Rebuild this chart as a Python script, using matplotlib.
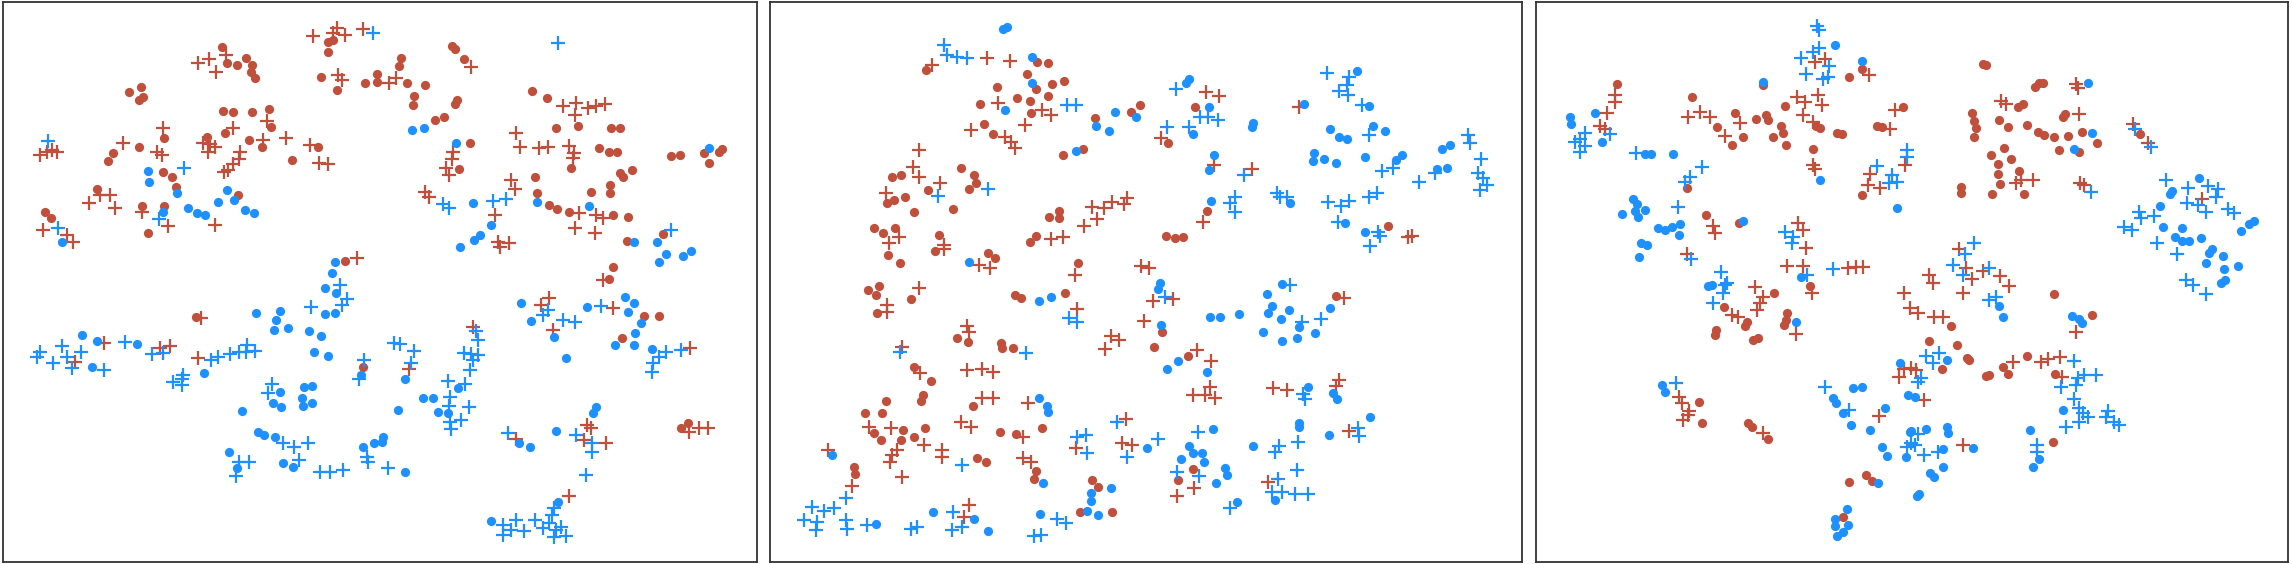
import matplotlib
matplotlib.use("Agg")
import matplotlib.pyplot as plt
import numpy as np

# ---------------- data (embedding coordinates) ----------------
p1_red_dot = [(328,42),(333,40),(328,52),(321,77),(337,90),(365,83),(377,74),(377,82),
(222,47),(227,63),(237,65),(246,58),(252,65),(251,72),(255,78),
(129,92),(141,87),(143,97),(139,100),
(223,111),(233,112),(252,112),(269,109),(271,127),
(164,138),(139,147),(113,153),(108,161),
(207,137),(225,133),(249,140),(262,147),(318,147),(292,160),
(163,172),(172,177),(176,187),(238,195),
(97,189),(142,206),(164,206),(148,233),(45,212),(51,218),
(345,261),
(452,46),(455,49),(464,59),(401,58),(399,66),(407,83),(425,85),
(414,96),(413,105),(457,100),(455,104),(444,117),(435,120),
(470,143),(459,169),
(532,91),(547,98),(556,128),(578,126),(611,128),(620,128),
(571,168),(599,148),(609,152),(617,152),
(671,156),(680,155),(704,153),(719,152),(722,149),(709,163),
(535,177),(537,193),(620,173),(623,177),(632,170),(610,185),(610,193),(591,192),
(549,205),(557,209),(569,212),(613,215),(628,217),(627,241),(663,234),
(613,267),(609,279),(196,317),(363,367),
(644,316),(659,316),(622,338),(681,428),(688,423)]

p1_red_plus = [(313,36),(337,28),(333,33),(345,35),(363,29),(338,75),(342,80),
(198,63),(209,59),(226,55),(216,72),(267,121),(163,128),
(40,155),(47,152),(52,150),(57,152),(123,143),(157,152),(162,155),
(203,143),(210,144),(208,152),(215,147),
(233,128),(263,140),(286,138),(310,145),(319,163),(328,164),
(240,152),(239,159),(233,164),(228,170),(224,172),
(215,225),(100,195),(110,195),(89,203),(115,208),
(142,212),(168,226),(43,230),(67,235),(73,242),(357,258),
(471,67),(396,78),(389,83),(453,152),(452,159),(446,168),(449,175),
(425,192),(429,197),(495,215),(498,242),(500,247),(509,243),
(563,106),(576,103),(575,115),(588,108),(596,106),(605,104),
(516,133),(520,147),(539,148),(548,147),(569,146),(574,153),(573,158),
(511,180),(515,189),(579,213),(596,215),(603,218),(575,228),(595,233),
(603,280),(201,318),(104,343),(75,362),(160,348),(170,346),(198,358),
(541,305),(549,298),(553,330),(613,308),(690,348),
(409,369),(473,327),(516,439),(587,425),(591,428),(584,440),(606,443),
(689,432),(699,428),(708,428),(569,496)]

p1_blue_dot = [(148,171),(149,182),(177,193),(227,190),(218,202),(234,200),(245,210),(254,213),
(188,208),(197,213),(205,215),(163,212),(62,242),
(335,262),(332,273),(325,288),
(412,130),(424,128),(456,143),(473,203),(491,225),(480,235),(474,240),(460,247),
(537,202),(589,206),(634,242),(657,242),(666,254),(659,262),(683,256),(691,251),(709,148),
(336,293),(325,314),(335,313),
(256,313),(280,311),(276,320),(274,330),(288,328),(309,331),(321,336),(314,352),(328,356),
(82,335),(97,341),(137,344),(92,367),(204,373),(361,375),
(280,392),(273,403),(281,407),(304,387),(312,386),(302,398),(303,406),(312,403),
(242,411),(258,432),(264,435),(275,437),(283,463),(293,467),(229,452),(237,468),
(363,447),(374,443),(382,442),(383,437),
(521,303),(531,321),(554,337),(566,358),(587,307),(625,297),(634,303),(628,312),
(641,323),(635,333),(615,345),(634,345),(652,349),
(405,379),(458,388),(438,412),(448,413),(423,398),(433,398),(398,410),(405,472),
(519,443),(530,447),(556,431),(596,407),(593,413),(558,502),(491,521)]

p1_blue_plus = [(373,33),(184,168),(159,219),(58,228),(48,141),(340,285),
(558,43),(443,204),(449,208),(493,201),(506,199),(671,230),
(347,299),(342,305),(311,307),
(125,342),(62,346),(40,352),(37,357),(53,363),(67,357),(72,368),(81,352),(104,370),
(152,354),(163,353),(211,360),(218,357),(230,354),(239,352),(247,345),(255,351),(246,352),
(183,375),(173,382),(182,385),(182,379),
(364,360),(359,379),(272,384),(268,393),
(283,443),(294,447),(308,443),(299,460),(239,462),(249,462),(236,476),
(320,472),(330,472),(343,470),(367,457),(368,462),(388,468),
(548,310),(543,315),(563,320),(575,322),(601,306),
(666,352),(681,350),(659,357),(653,363),(652,372),
(394,343),(400,344),(414,351),(411,363),
(476,331),(478,340),(464,353),(471,354),(478,355),(473,360),(470,370),
(448,381),(465,384),(450,397),(449,406),(469,407),(461,420),(450,422),(451,429),
(508,433),(576,435),(592,443),(592,452),(586,475),(554,508),(552,515),
(503,525),(516,520),(511,530),(524,531),(535,520),(543,528),(549,523),(556,530),
(503,535),(554,537),(566,536),(561,527)]

p2_red_dot = [(926,70),(1037,62),(1048,63),(1027,74),(1036,89),(1052,84),(1064,81),(1048,96),
(997,87),(980,104),(1017,98),(1030,101),(1031,113),
(1095,118),(1131,112),(1140,105),(984,124),(993,134),(1063,155),(1083,149),
(892,177),(901,175),(887,203),(894,200),(905,197),(914,212),
(928,190),(961,168),(974,175),(976,183),(969,189),(953,209),
(1049,217),(1059,211),(1059,218),(874,228),(883,233),(895,228),(888,255),(900,263),
(939,235),(935,251),(1030,242),(1036,236),(988,253),(995,258),(1078,263),
(868,290),(879,286),(876,295),(911,299),(1195,107),(1168,143),
(1207,211),(1166,236),(1175,238),(1183,237),(1388,226),
(877,313),(1015,295),(1021,298),(1065,293),
(957,338),(968,342),(1001,343),(1002,348),(1013,348),
(914,367),(931,381),(923,395),(921,401),(886,401),(865,413),(882,413),(973,406),
(874,433),(881,440),(903,430),(901,440),(914,437),(925,428),
(1000,432),(1016,434),(1042,428),(977,458),(986,462),(1036,471),(1034,479),
(854,467),(855,474),(1092,480),(1098,487),(1080,512),(1112,512),
(1162,332),(1154,347),(1188,356),(1336,296),(1193,469),(1178,480)]

p2_red_plus = [(932,65),(987,58),(1010,61),(998,103),(1042,110),(1051,115),
(971,130),(1025,125),(1005,137),(1011,142),(1015,148),
(919,150),(913,167),(919,177),(886,193),(940,183),
(1092,207),(1104,208),(1112,202),(1124,204),(1127,198),(1097,219),(1084,226),
(899,237),(889,243),(944,245),(944,249),(1051,239),(1063,237),
(979,265),(990,268),(1075,275),(1141,266),(1149,268),(919,288),
(1206,92),(1219,96),(1161,138),(1214,165),(1252,169),(1203,222),
(1299,107),(1408,237),(1412,236),
(887,305),(887,312),(1077,309),(1144,321),
(1111,336),(1119,340),(1105,349),(967,326),(969,332),(902,347),
(920,373),(967,370),(982,369),(993,372),(982,398),(993,398),(1028,403),(1126,419),
(869,427),(891,428),(924,445),(897,450),(892,455),(890,462),(942,450),(942,457),
(961,422),(971,427),(1023,437),(1076,448),(1122,443),(1132,445),
(828,450),(1023,458),(1031,462),(852,486),(902,477),(969,505),(964,517),
(1153,301),(1173,299),(1197,350),(1211,361),(1193,395),(1205,395),(1210,387),(1215,398),
(1273,388),(1287,390),(1339,380),(1336,386),(1344,298),(1349,431),
(1194,488),(1177,496),(1268,482)]

p2_blue_dot = [(1003,29),(1007,27),(1032,57),(1032,83),(1005,110),
(1096,126),(1109,131),(1115,112),(1136,117),(1076,151),(969,262),
(1189,79),(1186,83),(1209,107),(1193,134),(1253,123),(1252,127),(1304,104),
(1357,71),(1369,106),(1330,129),(1339,137),(1347,139),(1373,126),(1385,131),
(1314,153),(1313,161),(1324,159),(1336,163),(1365,157),
(1402,155),(1396,160),(1437,169),(1447,168),(1442,149),(1450,145),
(1214,155),(1209,170),(1211,201),(1290,203),(1345,223),(1365,232),
(1160,283),(1282,284),(1039,301),(1051,297),(1039,398),(1047,406),(1048,412),(1147,448),
(832,455),(1043,483),(1111,488),(1091,493),(1091,501),(1087,511),(1098,515),
(876,524),(933,512),(974,519),(988,531),(1040,514),
(1158,289),(1161,325),(1210,317),(1220,317),(1239,314),(1178,361),(1167,369),(1207,372),
(1267,294),(1272,306),(1268,313),(1289,310),(1281,319),(1263,332),(1282,341),(1297,338),
(1299,327),(1315,333),(1330,308),
(1308,387),(1333,393),(1337,399),(1370,417),(1329,435),(1299,423),(1299,427),(1253,446),
(1213,429),(1189,446),(1193,453),(1202,453),(1204,462),(1181,459),(1225,468),(1227,475),(1216,483),
(1275,500),(1237,502)]

p2_blue_plus = [(944,45),(947,55),(957,57),(967,58),(1067,105),(1076,105),(938,196),(988,189),
(1176,89),(1200,117),(1208,117),(1218,120),(1189,127),(1167,127),
(1327,73),(1349,77),(1347,85),(1339,91),(1348,95),(1362,105),(1369,135),
(1382,171),(1393,168),(1419,182),(1435,173),
(1468,135),(1470,143),(1481,159),(1478,173),(1487,185),(1480,190),(1483,178),
(1244,175),(1230,203),(1235,197),(1235,212),
(1277,193),(1280,197),(1287,197),(1328,202),(1341,206),(1349,201),(1338,222),
(1369,197),(1377,193),(1378,232),(1380,236),(1370,246),(1290,285),
(1069,318),(1077,322),(1026,353),(900,352),(1117,422),
(1077,437),(1086,435),(1087,453),(1127,457),(962,465),
(846,498),(812,507),(824,511),(834,508),(804,520),(817,522),(816,530),(846,520),(847,529),(867,525),
(911,529),(917,527),(953,512),(952,530),(962,527),
(1057,519),(1066,523),(1034,536),(1041,535),
(1165,297),(1302,322),(1321,319),(1303,394),(1305,399),
(1358,428),(1359,436),(1298,442),(1297,470),(1279,446),(1275,452),
(1198,432),(1158,439),(1177,472),(1199,476),
(1278,479),(1272,492),(1282,492),(1295,494),(1308,494),(1230,508)]

p3_red_dot = [(1862,69),(1849,77),(1763,85),(1617,84),
(1692,97),(1717,127),(1732,145),(1735,113),(1743,137),(1756,119),(1766,115),(1768,120),
(1773,137),(1781,126),(1783,133),(1786,145),(1785,106),
(1820,128),(1816,126),(1837,133),(1842,134),(1813,149),
(1903,107),(1877,126),(1882,127),(1862,195),(1687,188),(1706,215),(1739,223),(1810,286),
(1983,64),(1986,65),(2035,87),(2039,83),(2043,83),(2018,107),(2023,104),
(1972,113),(1974,121),(1976,128),(1974,137),(1999,120),(2008,127),(2027,125),(2038,132),
(2044,135),(2054,137),(2068,136),(2063,117),(2065,114),(2082,132),(2097,143),(2079,152),(2059,150),
(2004,148),(1991,155),(2011,159),(1998,164),(1998,174),(2019,171),(2000,184),(2024,194),
(1992,194),(1961,187),(1961,193),(2140,134),
(1724,307),(1716,330),(1715,335),(1747,322),(1745,326),(1753,340),(1758,338),(1774,293),
(1787,313),(1786,320),(1784,325),(1699,402),(1702,423),(1748,423),(1752,427),(1768,439),
(1866,475),(1872,481),(1849,482),(1843,517),
(2054,294),(1951,326),(1929,341),(1957,345),(1967,358),(1969,360),(1942,369),
(1986,376),(1989,375),(2003,367),(2008,374),(2027,356),(2055,374),(2092,315),(2053,442)]

p3_red_plus = [(1815,62),(1825,59),(1869,75),
(1615,95),(1615,102),(1607,113),(1600,126),(1605,129),
(1688,117),(1700,112),(1710,117),(1725,136),(1740,123),
(1797,97),(1805,102),(1803,115),(1818,95),(1822,105),(1813,122),
(1813,165),(1815,169),(1895,110),(1890,129),
(1870,174),(1868,185),(1880,188),(1905,165),
(1687,254),(1713,226),(1715,233),(1798,223),(1803,230),(1806,248),
(1787,266),(1803,266),(1848,268),(1856,267),(1863,267),(1755,287),
(2076,84),(2078,88),(2001,101),(2006,104),(2079,114),
(2021,180),(2033,180),(2016,183),(2080,183),(2084,185),
(2133,124),(2148,143),(2202,199),
(1959,249),(1966,268),(1972,279),(1983,271),(2000,276),(2009,286),(1929,275),(1933,283),
(1732,315),(1738,317),(1763,297),(1760,303),(1757,310),(1796,334),(1812,293),
(1904,293),(1910,308),
(1679,397),(1682,403),(1689,411),(1683,420),(1688,415),
(1763,433),(1879,416),(1904,369),(1899,377),
(1963,293),(1918,313),(1934,317),(1943,317),(1911,368),(1916,370),(1924,400),
(2013,362),(2041,362),(2048,359),(2060,357),(2062,377),(2076,332),(1963,445)]

p3_blue_dot = [(1835,45),(1862,61),(1763,82),(1595,113),(1602,142),(1570,117),(1571,124),
(1645,154),(1651,154),(1673,154),(1820,180),(1897,208),
(1633,199),(1637,204),(1645,210),(1622,214),(1635,211),(1638,217),(1658,228),(1665,230),
(1672,227),(1680,224),(1679,235),(1641,243),(1647,245),(1639,257),(1743,221),(1801,277),
(1712,285),(1708,286),
(2088,83),(2092,133),(2074,149),(2172,191),(2170,194),(2199,178),(2160,206),
(2163,227),(2182,228),(2175,237),(2182,241),(2189,241),(2201,238),
(2212,249),(2209,253),(2223,256),(2206,263),(2224,269),(2238,266),(2241,231),(2249,224),
(2254,221),(2221,283),(2225,280),
(1796,322),(1662,385),(1665,392),
(1853,388),(1862,387),(1833,398),(1836,403),(1843,413),(1851,425),(1870,430),(1885,408),
(1900,363),(1908,395),(1910,432),(1906,457),(1882,447),(1887,456),(1878,483),
(1847,509),(1835,519),(1835,526),(1848,525),(1843,532),(1837,536),
(1999,306),(2003,317),(1947,360),(1915,397),
(2072,316),(2079,319),(2082,323),(2063,410),(2030,430),(2039,459),(2033,467),
(1911,431),(1926,429),(1947,427),(1948,433),(1943,449),(1973,448),(1943,467),(1930,473),
(1934,477),(1919,494),(1917,496)]

p3_blue_plus = [(1817,26),(1819,30),(1819,48),(1813,52),(1801,58),(1829,66),(1806,74),(1823,79),(1828,77),
(1610,134),(1585,133),(1580,139),(1575,142),(1585,146),(1580,152),(1636,153),
(1702,167),(1690,177),(1685,182),(1877,166),(1892,175),(1897,182),(1889,183),(1907,150),(1907,157),
(1678,207),(1691,259),(1785,232),(1793,237),(1792,243),(1807,275),(1833,269),
(1721,272),(1727,283),(1725,285),(1723,293),(1713,303),
(2091,192),(2135,129),(2151,147),
(2166,180),(2188,188),(2208,186),(2218,189),(2216,197),(2187,203),(2198,205),(2206,212),(2228,209),(2234,213),
(2139,212),(2141,218),(2154,216),(2124,227),(2132,230),(2157,243),(2177,254),
(2186,280),(2193,285),(2206,294),
(1974,243),(1965,254),(1953,265),(1963,275),(1989,268),
(1676,383),(1825,387),(1849,410),(1907,447),
(1989,300),(1996,297),(1926,356),(1939,353),(1933,363),(1921,378),(1918,382),
(2074,361),(2078,378),(2084,375),(2096,375),(2061,387),(2076,385),(2074,399),(2079,408),
(2083,413),(2088,417),(2079,422),(2066,427),(2108,411),(2106,417),(2114,422),(2119,425),
(2037,445),(2037,452),(1918,434),(1911,443),(1915,445),(1924,455),(1938,452)]

panels = [
    (p1_red_dot, p1_red_plus, p1_blue_dot, p1_blue_plus),
    (p2_red_dot, p2_red_plus, p2_blue_dot, p2_blue_plus),
    (p3_red_dot, p3_red_plus, p3_blue_dot, p3_blue_plus),
]

# ---------------- layout / style ----------------
W, H = 2292, 564
frames = [(3, 757), (770, 1522), (1536, 2288)]
top, bottom = 2, 562
RED = "#c0503c"
BLUE = "#1e90ff"

fig = plt.figure(figsize=(W / 100, H / 100), dpi=100)
for (rd, rp, bd, bp), (x0, x1) in zip(panels, frames):
    ax = fig.add_axes([x0 / W, 1 - bottom / H, (x1 - x0) / W, (bottom - top) / H])
    for pts, col, mk in [(rd, RED, "o"), (rp, RED, "+"), (bd, BLUE, "o"), (bp, BLUE, "+")]:
        a = np.array(pts, dtype=float)
        if mk == "o":
            ax.scatter(a[:, 0], a[:, 1], s=44, c=col, marker="o", linewidths=0)
        else:
            ax.scatter(a[:, 0], a[:, 1], s=100, c=col, marker="+", linewidths=1.6)
    ax.set_xlim(x0, x1)
    ax.set_ylim(bottom, top)
    ax.set_xticks([])
    ax.set_yticks([])
    for sp in ax.spines.values():
        sp.set_color("#333333")
        sp.set_linewidth(1.3)

fig.savefig("out.png", dpi=100)
